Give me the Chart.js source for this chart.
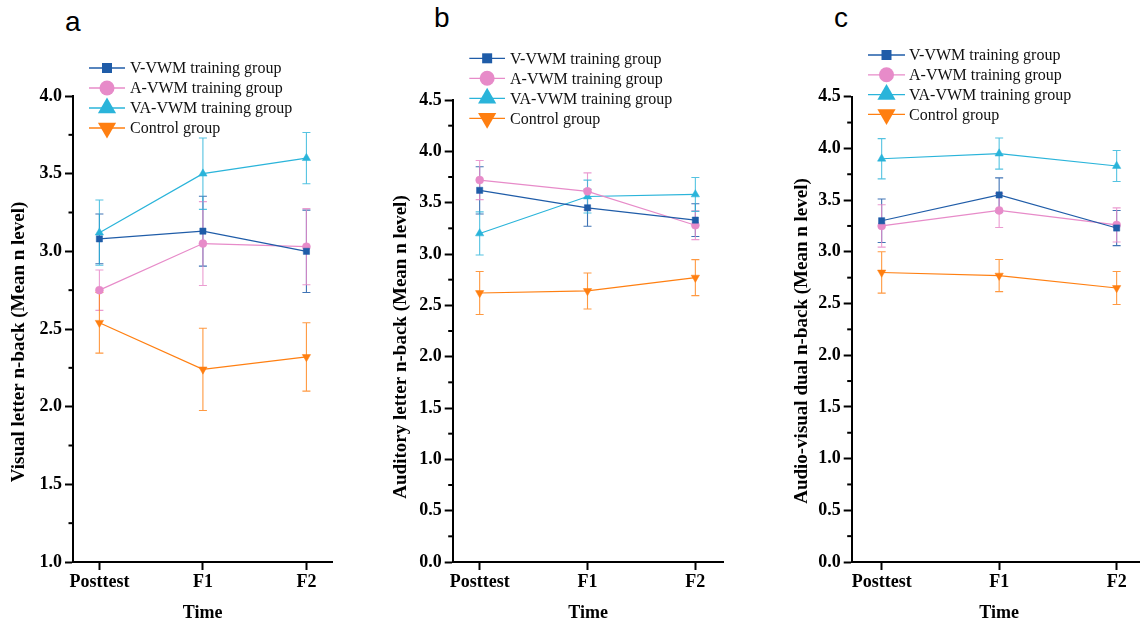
<!DOCTYPE html>
<html>
<head>
<meta charset="utf-8">
<script src="https://cdn.jsdelivr.net/npm/chart.js"></script>
<style>
  html, body { margin:0; padding:0; background:#ffffff; width:1140px; height:624px; overflow:hidden; position:relative; }
  canvas { position:absolute; top:0; }
  .letter { position:absolute; font-family:'Liberation Sans', Arial, sans-serif; font-size:28px; line-height:28px; color:#000; }
</style>
</head>
<body>
<div class="letter" style="left:65px;top:8px">a</div>
<div class="letter" style="left:434px;top:4px">b</div>
<div class="letter" style="left:834px;top:4px">c</div>
<canvas id="ca" width="360" height="624" style="left:0px"></canvas>
<canvas id="cb" width="360" height="624" style="left:380px"></canvas>
<canvas id="cc" width="400" height="624" style="left:760px"></canvas>
<script>
// ---------------- data ----------------
const categories = ['Posttest', 'F1', 'F2'];
const seriesNames = ['V-VWM training group', 'A-VWM training group', 'VA-VWM training group', 'Control group'];

const yTicksA = [1.0, 1.5, 2.0, 2.5, 3.0, 3.5, 4.0];
const yTicksBC = [0.0, 0.5, 1.0, 1.5, 2.0, 2.5, 3.0, 3.5, 4.0, 4.5];

// Panel a: Visual letter n-back
const aV   = [3.08, 3.13, 3.00];  const aVerr  = [0.16, 0.225, 0.265];
const aA   = [2.75, 3.05, 3.03];  const aAerr  = [0.13, 0.27, 0.245];
const aVA  = [3.12, 3.50, 3.60];  const aVAerr = [0.21, 0.23, 0.165];
const aC   = [2.54, 2.24, 2.32];  const aCerr  = [0.195, 0.265, 0.22];

// Panel b: Auditory letter n-back
const bV   = [3.62, 3.45, 3.33];  const bVerr  = [0.23, 0.18, 0.16];
const bA   = [3.72, 3.61, 3.28];  const bAerr  = [0.19, 0.18, 0.14];
const bVA  = [3.20, 3.56, 3.58];  const bVAerr = [0.21, 0.16, 0.165];
const bC   = [2.62, 2.64, 2.77];  const bCerr  = [0.21, 0.175, 0.175];

// Panel c: Audio-visual dual n-back
const cV   = [3.30, 3.55, 3.23];  const cVerr  = [0.21, 0.165, 0.17];
const cA   = [3.25, 3.40, 3.26];  const cAerr  = [0.205, 0.165, 0.165];
const cVA  = [3.90, 3.95, 3.83];  const cVAerr = [0.195, 0.15, 0.15];
const cC   = [2.80, 2.77, 2.65];  const cCerr  = [0.20, 0.155, 0.16];

// ---------------- styles ----------------
const styles = [
  { color:'#1f5ca8', err:'rgba(31,92,168,0.85)',  shape:'rect',     rot:0,   r:4.4, lr:5.0 },
  { color:'#e78bc9', err:'rgba(231,139,201,0.85)', shape:'circle',   rot:0,   r:4.0, lr:7.5 },
  { color:'#2ab4da', err:'rgba(42,180,218,0.8)',  shape:'triangle', rot:0,   r:4.8, lr:10.5 },
  { color:'#ff7f11', err:'rgba(255,127,17,0.8)',  shape:'triangle', rot:180, r:4.8, lr:10.5 }
];

const FONT = "'Liberation Serif', 'Times New Roman', serif";
Chart.defaults.font.family = FONT;
Chart.defaults.color = '#000';

function drawMarker(ctx, shape, x, y, r, rot) {
  ctx.beginPath();
  if (shape === 'rect') {
    ctx.rect(x - r, y - r, 2 * r, 2 * r);
  } else if (shape === 'circle') {
    ctx.arc(x, y, r, 0, Math.PI * 2);
  } else {
    let a = rot * Math.PI / 180;
    ctx.moveTo(x + Math.sin(a) * r, y - Math.cos(a) * r);
    a += 2 * Math.PI / 3;
    ctx.lineTo(x + Math.sin(a) * r, y - Math.cos(a) * r);
    a += 2 * Math.PI / 3;
    ctx.lineTo(x + Math.sin(a) * r, y - Math.cos(a) * r);
    ctx.closePath();
  }
  ctx.fill();
}

function makePanel(id, cfg) {
  const datasets = cfg.values.map((vals, k) => ({
    label: seriesNames[k],
    data: vals.map((v, i) => ({ x: i, y: v })),
    borderColor: styles[k].color,
    backgroundColor: styles[k].color,
    borderWidth: 1.2,
    pointStyle: styles[k].shape,
    pointRotation: styles[k].rot,
    pointRadius: styles[k].r,
    pointHoverRadius: styles[k].r,
    pointBorderWidth: 0.5,
    pointBorderColor: styles[k].color,
    pointBackgroundColor: styles[k].color,
    tension: 0,
    clip: false
  }));

  const errorBars = {
    id: 'errorBars',
    beforeDatasetsDraw(chart) {
      const { ctx, scales: { x, y } } = chart;
      ctx.save();
      chart.data.datasets.forEach((ds, k) => {
        ctx.strokeStyle = styles[k].err;
        ctx.lineWidth = 1.1;
        ds.data.forEach((p, i) => {
          const e = cfg.errors[k][i];
          const px = x.getPixelForValue(p.x);
          const yt = y.getPixelForValue(p.y + e);
          const yb = y.getPixelForValue(p.y - e);
          ctx.beginPath();
          ctx.moveTo(px, yt); ctx.lineTo(px, yb);
          ctx.moveTo(px - 4, yt); ctx.lineTo(px + 4, yt);
          ctx.moveTo(px - 4, yb); ctx.lineTo(px + 4, yb);
          ctx.stroke();
        });
      });
      ctx.restore();
    }
  };

  const minorTicks = {
    id: 'minorTicks',
    afterDraw(chart) {
      const { ctx, scales: { y }, chartArea } = chart;
      const t = cfg.yTicks;
      ctx.save();
      ctx.strokeStyle = '#000';
      ctx.lineWidth = 2;
      for (let i = 0; i < t.length - 1; i++) {
        const py = y.getPixelForValue((t[i] + t[i + 1]) / 2);
        ctx.beginPath();
        ctx.moveTo(chartArea.left, py);
        ctx.lineTo(chartArea.left - 4.5, py);
        ctx.stroke();
      }
      ctx.restore();
    }
  };

  const customLegend = {
    id: 'customLegend',
    afterDraw(chart) {
      const ctx = chart.ctx;
      const lg = cfg.legend;
      ctx.save();
      chart.data.datasets.forEach((ds, k) => {
        const yy = lg.y0 + k * lg.dy;
        ctx.strokeStyle = styles[k].color;
        ctx.lineWidth = 1.3;
        ctx.beginPath();
        ctx.moveTo(lg.x0, yy); ctx.lineTo(lg.x1, yy);
        ctx.stroke();
        ctx.fillStyle = styles[k].color;
        drawMarker(ctx, styles[k].shape, (lg.x0 + lg.x1) / 2, yy, styles[k].lr, styles[k].rot);
        ctx.fillStyle = '#111';
        ctx.font = '16px ' + FONT;
        ctx.textAlign = 'left';
        ctx.textBaseline = 'middle';
        ctx.fillText(ds.label, lg.tx, yy + 1);
      });
      ctx.restore();
    }
  };

  const yTitle = {
    id: 'yTitle',
    afterDraw(chart) {
      const ctx = chart.ctx;
      ctx.save();
      ctx.translate(cfg.yTitle.x, cfg.yTitle.cy);
      ctx.rotate(-Math.PI / 2);
      ctx.font = 'bold 19px ' + FONT;
      ctx.fillStyle = '#000';
      ctx.textAlign = 'center';
      ctx.textBaseline = 'middle';
      ctx.fillText(cfg.yTitle.text, 0, 0);
      ctx.restore();
    }
  };

  const L = cfg.layout;
  new Chart(document.getElementById(id), {
    type: 'line',
    data: { datasets },
    options: {
      responsive: false,
      animation: false,
      events: [],
      layout: { padding: { left: 0, top: L.top, right: L.W - L.right, bottom: 0 } },
      plugins: { legend: { display: false }, tooltip: { enabled: false } },
      scales: {
        x: {
          type: 'linear',
          min: L.xMin, max: L.xMax,
          afterBuildTicks: s => { s.ticks = categories.map((c, i) => ({ value: i })); },
          afterFit: s => { s.height = 624 - L.bottom; },
          ticks: {
            callback: v => categories[Math.round(v)],
            font: { size: 18, weight: 'bold' },
            color: '#000',
            padding: 2,
            maxRotation: 0, autoSkip: false
          },
          grid: { display: true, drawOnChartArea: false, drawTicks: true, tickLength: 8, tickWidth: 2, tickColor: '#000' },
          border: { display: true, color: '#000', width: 2 },
          title: { display: true, text: 'Time', font: { size: 18, weight: 'bold' }, color: '#000', padding: { top: 0, bottom: 0 } }
        },
        y: {
          type: 'linear',
          min: cfg.yTicks[0], max: cfg.yTicks[cfg.yTicks.length - 1],
          afterBuildTicks: s => { s.ticks = cfg.yTicks.map(v => ({ value: v })); },
          afterFit: s => { s.width = L.left; },
          ticks: {
            callback: v => v.toFixed(1),
            font: { size: 18, weight: 'bold' },
            color: '#000',
            padding: 3
          },
          grid: { display: true, drawOnChartArea: false, drawTicks: true, tickLength: 8, tickWidth: 2, tickColor: '#000' },
          border: { display: true, color: '#000', width: 2 },
          title: { display: false }
        }
      }
    },
    plugins: [errorBars, minorTicks, customLegend, yTitle]
  });
}

makePanel('ca', {
  values: [aV, aA, aVA, aC],
  errors: [aVerr, aAerr, aVAerr, aCerr],
  yTicks: yTicksA,
  layout: { W: 360, left: 73, right: 332.3, top: 96, bottom: 562, xMin: -0.255, xMax: 2.25 },
  legend: { x0: 89, x1: 125, tx: 130, y0: 68, dy: 20 },
  yTitle: { text: 'Visual letter n-back (Mean n level)', x: 19, cy: 342 }
});

makePanel('cb', {
  values: [bV, bA, bVA, bC],
  errors: [bVerr, bAerr, bVAerr, bCerr],
  yTicks: yTicksBC,
  layout: { W: 360, left: 72.7, right: 343.4, top: 100, bottom: 562, xMin: -0.25, xMax: 2.26 },
  legend: { x0: 89.3, x1: 125, tx: 130, y0: 58.3, dy: 20 },
  yTitle: { text: 'Auditory letter n-back (Mean n level)', x: 20.7, cy: 347 }
});

makePanel('cc', {
  values: [cV, cA, cVA, cC],
  errors: [cVerr, cAerr, cVAerr, cCerr],
  yTicks: yTicksBC,
  layout: { W: 400, left: 91.7, right: 386.6, top: 96.7, bottom: 562, xMin: -0.255, xMax: 2.255 },
  legend: { x0: 108, x1: 145, tx: 149, y0: 55, dy: 19.8 },
  yTitle: { text: 'Audio-visual dual n-back (Mean n level)', x: 41.7, cy: 341 }
});
</script>
</body>
</html>
